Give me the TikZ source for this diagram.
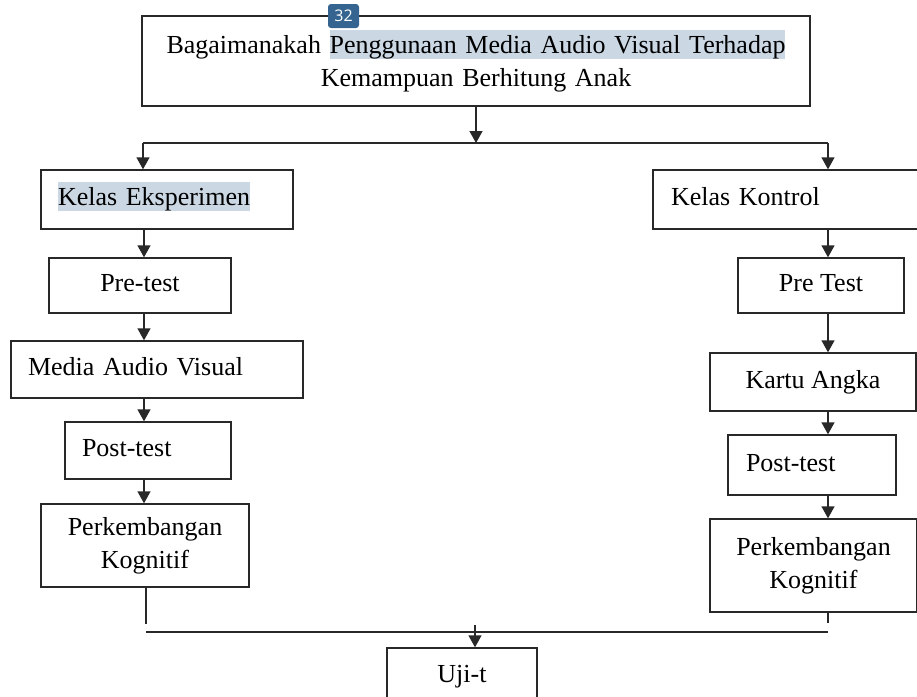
\documentclass[tikz,border=0pt]{standalone}
\usepackage{fontspec}
\setmainfont{Liberation Serif}
\newfontfamily\badgefont{Open Sans}
\usetikzlibrary{arrows.meta}
\definecolor{hlblue}{RGB}{203,216,228}
\definecolor{badgeblue}{RGB}{52,100,143}
\definecolor{edge}{RGB}{40,40,40}
\newcommand{\hlbox}[1]{{\setlength{\fboxsep}{0pt}\colorbox{hlblue}{\rule[-5pt]{0pt}{29pt}#1}}}
\begin{document}
\begin{tikzpicture}[x=1pt,y=-1pt,
  box/.style={draw=edge,line width=1.4pt,inner sep=0pt,font=\fontsize{26}{33}\selectfont},
  single/.style={text height=18pt,text depth=6pt},
  arr/.style={draw=edge,line width=1.4pt,-{Triangle[length=12pt,width=13pt]}},
  wire/.style={draw=edge,line width=1.4pt}]
\fill[white] (0,0) rectangle (917,696);
\useasboundingbox (0,0) rectangle (917,696);
\clip (0,0) rectangle (917,696);

% boxes
\node[box, minimum width=668pt, minimum height=90pt, text width=640pt, align=center] (top) at (476,61)
  {Bagaimanakah \hlbox{Penggunaan Media Audio Visual Terhadap}\\Kemampuan Berhitung Anak};
\node[box,single,minimum width=252pt,minimum height=59pt,inner xsep=17pt,text width=218pt,align=left] (kelE) at (167,199.5) {\hlbox{Kelas Eksperimen}};
\node[box,single,minimum width=182pt,minimum height=55pt] (preE) at (140,285.5) {Pre-test};
\node[box,single,minimum width=292pt,minimum height=57pt,inner xsep=17pt,text width=258pt,align=left] (media) at (157,369.5) {Media Audio Visual};
\node[box,single,minimum width=166pt,minimum height=57pt,inner xsep=17pt,text width=132pt,align=left] (postE) at (148,450.5) {Post-test};
\node[box,minimum width=208pt,minimum height=83pt,align=center] (perkE) at (145,545.5) {Perkembangan\\Kognitif};

\node[box,single,minimum width=282pt,minimum height=59pt,inner xsep=18pt,text width=246pt,align=left] (kelK) at (794,199.5) {Kelas Kontrol};
\node[box,single,minimum width=166pt,minimum height=55pt] (preK) at (821,285.5) {Pre Test};
\node[box,single,minimum width=206pt,minimum height=58pt] (kartu) at (813,382) {Kartu Angka};
\node[box,single,minimum width=168pt,minimum height=60pt,inner xsep=18pt,text width=132pt,align=left] (postK) at (812,465) {Post-test};
\node[box,minimum width=207pt,minimum height=93pt,align=center] (perkK) at (813.5,565.5) {Perkembangan\\Kognitif};

\node[box,single,minimum width=150pt,minimum height=56pt] (uji) at (462,676) {Uji-t};

% badge
\node[fill=badgeblue,rounded corners=3pt,minimum width=31pt,minimum height=24pt,inner sep=0pt,text=white,font=\badgefont\fontsize{16}{16}\selectfont] (badge) at (343.5,16) {32};

% connectors
\coordinate (jL) at (143,143);
\coordinate (jR) at (828,143);
\coordinate (cL) at (144,0);
\coordinate (cR) at (828,0);
\draw[arr] (top.south) -- (top.south |- jL);
\draw[wire] (jL) -- (jR);
\draw[arr] (jL) -- (jL |- kelE.north);
\draw[arr] (jR) -- (jR |- kelK.north);

\draw[arr] (cL |- kelE.south) -- (cL |- preE.north);
\draw[arr] (cL |- preE.south) -- (cL |- media.north);
\draw[arr] (cL |- media.south) -- (cL |- postE.north);
\draw[arr] (cL |- postE.south) -- (cL |- perkE.north);

\draw[arr] (cR |- kelK.south) -- (cR |- preK.north);
\draw[arr] (cR |- preK.south) -- (cR |- kartu.north);
\draw[arr] (cR |- kartu.south) -- (cR |- postK.north);
\draw[arr] (cR |- postK.south) -- (cR |- perkK.north);

\coordinate (bL) at (146,624);
\coordinate (bR) at (828,623);
\coordinate (hL) at (146,632);
\coordinate (hR) at (828,632);
\coordinate (bU) at (475,625);
\draw[wire] (perkE.south -| bL) -- (bL);
\draw[wire] (perkK.south -| bR) -- (bR);
\draw[wire] (hL) -- (hR);
\draw[arr] (bU) -- (bU |- uji.north);
\end{tikzpicture}
\end{document}
